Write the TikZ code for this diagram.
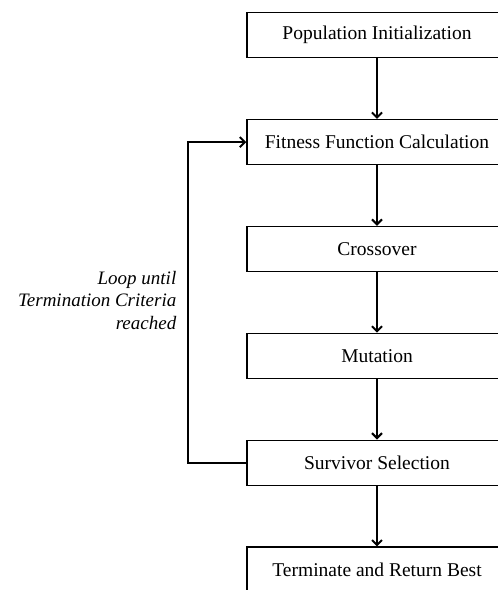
\documentclass[tikz,border=0pt]{standalone}
\usepackage{fontspec}
\setmainfont{Liberation Serif}
\usetikzlibrary{arrows.meta}
\tikzset{
  stage/.style={draw, line width=1.5pt, rectangle, minimum width=260pt, minimum height=45pt, inner sep=0pt, font=\fontsize{19.5}{23}\selectfont},
  conn/.style={line width=2pt, -{Straight Barb[length=5pt,width=10pt,line width=2pt]}},
  note/.style={align=right, inner sep=0pt, font=\itshape\fontsize{19}{22.5}\selectfont}
}
\begin{document}
\begin{tikzpicture}[x=1pt,y=-1pt]
\useasboundingbox (0,0) rectangle (498,590);
\clip (0,0) rectangle (498,590);
\node[stage] (s1) at (377,35.2) {Population Initialization};
\node[stage] (s2) at (377,142.1) {Fitness Function Calculation};
\node[stage] (s3) at (377,249) {Crossover};
\node[stage] (s4) at (377,355.9) {Mutation};
\node[stage] (s5) at (377,462.8) {Survivor Selection};
\node[stage] (s6) at (377,569.7) {Terminate and Return Best};
\draw[conn] (s1.south) -- (s2.north);
\draw[conn] (s2.south) -- (s3.north);
\draw[conn] (s3.south) -- (s4.north);
\draw[conn] (s4.south) -- (s5.north);
\draw[conn] (s5.south) -- (s6.north);
\coordinate (lp) at (188,462.8);
\draw[conn] (s5.west) -- (lp) |- (s2.west);
\node[note, anchor=north east] (lbl) at (176.5,271) {Loop until\\Termination Criteria\\reached};
\end{tikzpicture}
\end{document}
